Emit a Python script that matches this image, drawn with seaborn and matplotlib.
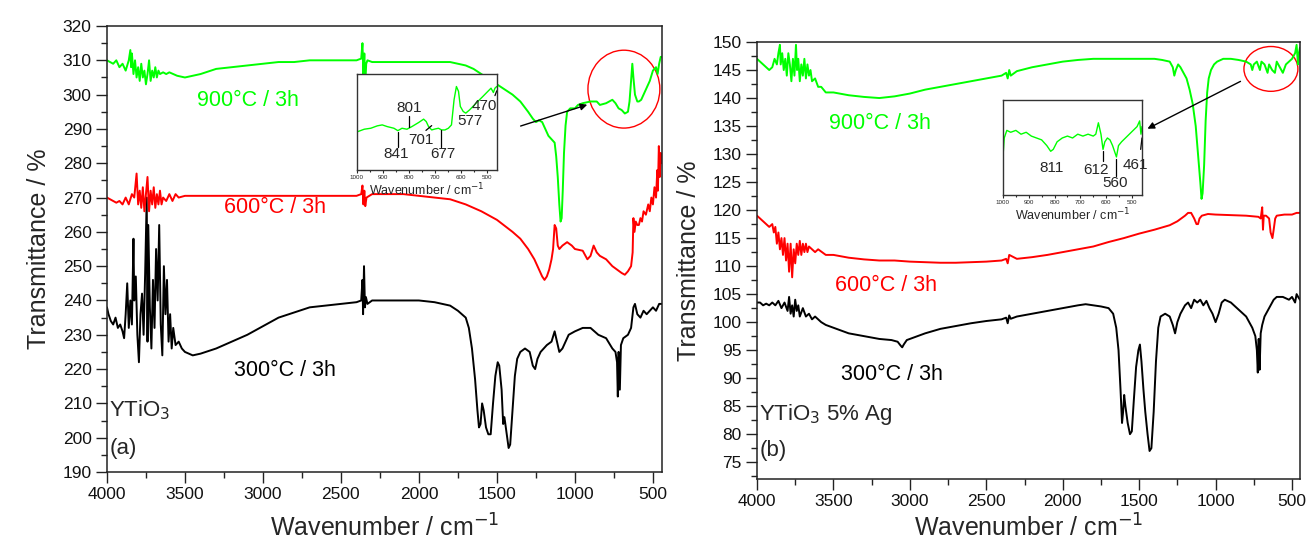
import matplotlib
matplotlib.use("Agg")
import matplotlib.pyplot as plt
from matplotlib.patches import Ellipse
from matplotlib.ticker import MultipleLocator
import seaborn as sns

sns.set_style("ticks")
plt.rcParams['font.family'] = ['Liberation Sans', 'DejaVu Sans']

# ---------------- Panel (a) YTiO3 ----------------
a300_wn = [4000, 3990, 3975, 3960, 3945, 3930, 3915, 3900, 3890, 3880, 3870, 3860, 3850, 3840, 3830, 3825, 3815, 3805,
           3795, 3785, 3775, 3765, 3755, 3745, 3740, 3735, 3725, 3715, 3705, 3695, 3685, 3675, 3665, 3655, 3645, 3635,
           3625, 3615, 3605, 3595, 3585, 3575, 3560, 3540, 3520, 3500, 3450, 3400, 3300, 3200, 3100, 3000, 2900, 2800,
           2700, 2600, 2500, 2400, 2370, 2362, 2358, 2352, 2346, 2340, 2330, 2300, 2200, 2100, 2000, 1900, 1800, 1750,
           1700, 1680, 1660, 1640, 1625, 1615, 1605, 1595, 1585, 1570, 1555, 1540, 1525, 1510, 1495, 1485, 1470, 1460,
           1452, 1440, 1425, 1415, 1400, 1385, 1370, 1350, 1320, 1290, 1270, 1255, 1240, 1220, 1200, 1180, 1150, 1130,
           1115, 1100, 1080, 1060, 1040, 1000, 950, 900, 850, 800, 760, 740, 730, 725, 720, 712, 705, 690, 660, 640,
           625, 615, 600, 580, 560, 540, 520, 500, 480, 460, 442]
a300_t = [238, 236, 234, 233, 235, 232, 233, 231, 229, 236, 245, 232, 240, 233, 258, 240, 247, 230,
          222, 236, 242, 230, 248, 270, 228, 262, 238, 226, 246, 232, 255, 240, 262, 233, 224, 250,
          236, 246, 228, 236, 226, 232, 227, 228, 226, 225, 224, 224.5, 226, 228, 230, 232.5, 235, 236.5,
          238, 238.5, 239, 239.5, 240, 246, 236, 250, 238, 241, 239, 240, 240, 240, 240, 239.5, 238.5, 237,
          235, 232, 226, 217, 208, 203, 204, 210, 208, 203, 201, 201, 210, 218, 222, 221, 214, 204,
          206, 202, 197, 198, 208, 218, 223, 225, 226, 225, 221, 220, 223, 225, 226, 227, 228, 231,
          228, 225, 226, 228, 230, 231, 232, 232, 230, 229, 226, 225, 222, 212, 225, 214, 227, 229, 230, 232,
          238, 239, 236, 235, 237, 236, 237, 238, 237, 239, 239]

a600_wn = [4000, 3980, 3960, 3940, 3920, 3900, 3880, 3860, 3840, 3825, 3810, 3800, 3790, 3780, 3770, 3760, 3750, 3740,
           3730, 3720, 3710, 3700, 3690, 3680, 3670, 3660, 3650, 3640, 3620, 3600, 3580, 3560, 3540, 3500, 3400, 3200,
           3000, 2800, 2600, 2400, 2370, 2362, 2356, 2350, 2344, 2336, 2300, 2200, 2100, 2000, 1900, 1800, 1700, 1600,
           1500, 1400, 1350, 1300, 1260, 1230, 1210, 1195, 1180, 1165, 1150, 1140, 1130, 1120, 1110, 1100, 1080, 1050,
           1020, 1000, 950, 920, 900, 880, 860, 840, 800, 760, 730, 700, 680, 660, 640, 630, 625, 618, 610, 600, 590,
           580, 570, 560, 545, 530, 520, 510, 500, 490, 480, 472, 468, 462, 456, 450, 442]
a600_t = [270, 269.5, 269, 268.5, 269, 268, 270, 268, 271, 270, 277, 268, 272, 267, 273, 266, 271, 276,
          266, 272, 268, 273, 267, 271, 268, 272, 268, 270, 269, 271, 269, 271, 270, 270.5, 270.5, 270.5,
          270.5, 270.5, 270.5, 270.5, 271, 273.5, 268, 272, 267.5, 270, 271, 271, 271, 270.5, 270, 269.5, 268, 266,
          263.5, 260, 258, 255, 252, 249, 247, 246, 247, 249, 252, 255, 262, 261, 256, 255, 256, 257,
          256, 255, 254.5, 252, 253, 256, 254, 253, 252, 250, 249, 248, 247.5, 248.5, 250, 254, 264, 260, 263, 262, 262,
          264, 263, 266, 265, 268, 266, 270, 268, 273, 270, 278, 272, 285, 276, 283, 280]

a900_wn = [4000, 3980, 3960, 3940, 3920, 3900, 3880, 3860, 3850, 3845, 3840, 3830, 3820, 3810, 3800, 3790, 3780, 3770,
           3760, 3750, 3740, 3730, 3720, 3710, 3700, 3690, 3680, 3670, 3660, 3640, 3620, 3600, 3550, 3500, 3400, 3300,
           3200, 3100, 3000, 2900, 2800, 2700, 2600, 2500, 2400, 2370, 2362, 2356, 2350, 2344, 2338, 2330, 2300, 2200,
           2000, 1900, 1800, 1750, 1700, 1650, 1600, 1550, 1500, 1450, 1400, 1350, 1300, 1270, 1250, 1230, 1210, 1190,
           1170, 1150, 1130, 1120, 1110, 1100, 1092, 1085, 1078, 1070, 1060, 1050, 1030, 1000, 980, 950, 900, 860, 840,
           800, 760, 740, 720, 700, 680, 660, 650, 640, 632, 625, 615, 600, 590, 575, 560, 540, 520, 500, 480, 470, 460,
           450, 442]
a900_t = [310, 309.5, 309, 310, 308, 309, 307, 310, 313, 308, 312, 306, 310, 305, 308, 304, 309, 305,
          307, 303, 306, 310, 304, 307, 305, 308, 305, 307, 306, 306.5, 306, 306.5, 305.5, 305, 306, 307.5,
          308, 308.5, 309, 309.5, 309.5, 310, 310, 310, 310, 310.5, 315, 306, 312, 303, 309, 310, 309.5, 309.5,
          309.5, 309.5, 309.5, 309, 308.5, 307.5, 306, 304.5, 303, 301.5, 300, 298, 295, 293, 292, 292.5, 292, 290,
          288, 287, 286, 282, 276, 268, 263, 264, 272, 283, 291, 295, 296, 296, 297, 297.5, 298, 298, 297,
          297.5, 298.5, 297.5, 296, 295.5, 294.5, 295, 298, 304, 309, 305, 300, 298, 298, 298.5, 300, 302, 304, 307, 308, 306, 309,
          311, 311]

# inset (a): 900 °C detail
ia_wn = [997, 972, 947, 922, 903, 884, 858, 843, 827, 808, 789, 763, 744, 734, 725, 713, 700, 687, 675, 662, 649,
         637, 627, 618, 610, 603, 592, 582, 567, 542, 516, 497, 485, 476, 470, 463]
ia_t = [296.0, 297.0, 297.4, 298.4, 298.8, 298.1, 297.4, 296.4, 297.4, 297.0, 298.1, 299.8, 301.2, 300.2, 298.1,
        296.7, 297.1, 297.4, 296.7, 296.7, 297.4, 298.8, 309.3, 314.8, 312.8, 306.5, 304.4, 303.7, 305.1, 307.9,
        310.7, 312.8, 314.1, 312.3, 314.1, 314.8]

# ---------------- Panel (b) YTiO3 5% Ag ----------------
b300_wn = [4000, 3980, 3960, 3940, 3920, 3900, 3880, 3860, 3840, 3820, 3800, 3790, 3780, 3770, 3760, 3750, 3740, 3730,
           3720, 3700, 3680, 3660, 3640, 3620, 3600, 3580, 3550, 3500, 3450, 3400, 3300, 3200, 3120, 3080, 3060, 3050,
           3040, 3020, 3000, 2900, 2800, 2700, 2600, 2500, 2400, 2370, 2360, 2350, 2340, 2300, 2200, 2100, 2000, 1900,
           1850, 1800, 1750, 1700, 1670, 1650, 1635, 1622, 1612, 1605, 1598, 1590, 1575, 1560, 1548, 1535, 1520, 1505,
           1495, 1485, 1472, 1460, 1445, 1432, 1420, 1405, 1390, 1375, 1360, 1330, 1300, 1280, 1265, 1250, 1230, 1200,
           1180, 1160, 1140, 1120, 1100, 1080, 1060, 1040, 1020, 1000, 980, 960, 940, 900, 860, 820, 800, 780, 760, 740,
           730, 724, 718, 712, 705, 695, 680, 660, 640, 620, 600, 560, 520, 500, 480, 470, 460, 448]
b300_t = [103.5, 103.5, 103, 103.3, 103, 103.5, 103, 103.8, 102.5, 103.5, 102, 104.5, 101.5, 103, 101, 104, 102, 103,
          101, 102.5, 101, 101.5, 100.5, 101, 100.5, 100, 99.5, 99, 98.5, 98, 97.5, 97, 96.8, 96.5, 95.8, 95.5,
          96, 96.8, 97, 98, 98.8, 99.3, 99.8, 100.2, 100.5, 100.8, 99.8, 101.2, 100.6, 101, 101.5, 102, 102.5, 103,
          103.2, 103, 102.8, 102.5, 101.5, 99, 95, 88, 82, 84, 87, 85, 82, 80, 80.5, 86, 92, 95,
          96, 93, 88, 84, 80, 77, 77.5, 84, 93, 99, 101, 101.5, 101, 99.5, 98, 100, 101.5, 103,
          103.5, 102.5, 104, 103.5, 104, 103, 103.8, 102.5, 101.5, 100, 101.5, 103.5, 104, 103.5, 102.5, 101.5, 101, 100, 99, 97.5,
          95, 91, 97, 91.5, 98, 99.5, 101, 102, 103, 104, 104.5, 104.5, 104, 104.5, 103.5, 105, 104.5, 104]

b600_wn = [4000, 3980, 3960, 3940, 3920, 3900, 3890, 3880, 3870, 3860, 3850, 3840, 3830, 3820, 3810, 3800, 3790, 3780,
           3770, 3760, 3750, 3740, 3730, 3720, 3710, 3700, 3690, 3680, 3670, 3660, 3640, 3620, 3600, 3550, 3500, 3400,
           3300, 3200, 3100, 3000, 2900, 2800, 2700, 2600, 2500, 2400, 2370, 2360, 2350, 2300, 2200, 2100, 2000, 1900,
           1800, 1700, 1600, 1500, 1400, 1300, 1250, 1200, 1180, 1160, 1140, 1125, 1115, 1105, 1090, 1050, 1000, 900,
           800, 720, 705, 695, 690, 685, 670, 650, 640, 628, 620, 610, 600, 550, 500, 470, 448]
b600_t = [119, 118.5, 118, 117.5, 117, 117.5, 116, 117, 114, 116, 113, 115, 112, 115, 111, 114, 109, 114,
          108, 113, 110.5, 114, 112, 114.5, 112, 114, 112.5, 114, 112.5, 113.5, 113, 112.5, 113, 112, 112, 111.5,
          111.2, 111, 111, 110.8, 110.7, 110.6, 110.6, 110.7, 110.8, 111, 111.3, 110.5, 112, 111.3, 111.6, 112, 112.5, 113,
          113.5, 114.3, 115, 115.8, 116.5, 117.3, 118, 119, 119.5, 119.5, 118.5, 117.5, 117.5, 118.5, 119, 119.3, 119.2, 119.1,
          119, 118.8, 118.5, 120.5, 116.5, 119, 119, 118.5, 116, 115, 116.5, 118.5, 119, 119.2, 119.2, 119.5, 119.5]

b900_wn = [4000, 3980, 3960, 3940, 3920, 3900, 3885, 3870, 3860, 3850, 3845, 3835, 3825, 3815, 3805, 3795, 3785, 3775,
           3765, 3755, 3745, 3738, 3730, 3720, 3710, 3700, 3690, 3680, 3670, 3660, 3650, 3640, 3620, 3600, 3580, 3550,
           3500, 3400, 3300, 3200, 3100, 3000, 2900, 2800, 2700, 2600, 2500, 2400, 2370, 2360, 2350, 2340, 2300, 2200,
           2100, 2000, 1900, 1800, 1700, 1600, 1500, 1400, 1350, 1300, 1280, 1270, 1260, 1245, 1230, 1210, 1190, 1170,
           1150, 1130, 1115, 1100, 1092, 1085, 1075, 1065, 1055, 1045, 1030, 1010, 990, 950, 900, 850, 800, 770, 760,
           750, 730, 710, 700, 680, 660, 650, 630, 612, 600, 580, 560, 540, 520, 500, 480, 470, 461, 455, 448]
b900_t = [147, 146.5, 146, 145.5, 145, 145.5, 147, 146, 148, 149.5, 146, 148, 145, 147, 144, 148, 146, 143,
          147, 144, 149.5, 145, 147, 143, 146, 144, 147, 143.5, 146, 144, 145, 143, 143.5, 142, 142, 141,
          141, 140.5, 140.2, 140, 140.3, 140.8, 141.5, 142, 142.5, 143, 143.5, 144, 144.5, 143.5, 145, 144, 144.8, 145.5,
          146, 146.5, 146.8, 147, 147, 147, 147, 147, 146.8, 146.5, 145.5, 144, 145, 146, 145.5, 144.5, 143.5, 141.5,
          139, 135, 130, 125, 122, 123, 128, 136, 141, 143.5, 145, 146, 146.5, 147, 147, 146.8, 146.5, 146, 145,
          146, 146.5, 145, 146.5, 146, 144.5, 146, 145, 144.5, 146.5, 145.5, 144.5, 146, 146.5, 147, 148, 149.5, 146, 148, 149]

# inset (b): 900 °C detail
ib_wn = [1000, 995, 985, 970, 950, 930, 910, 890, 870, 850, 830, 815, 805, 790, 770, 750, 730, 710, 690, 670, 650,
         640, 630, 620, 612, 605, 595, 585, 575, 565, 560, 552, 540, 525, 510, 495, 480, 470, 465, 461]
ib_t = [135, 140, 142, 141.5, 142, 141, 141.5, 140.5, 140, 139.5, 138, 136.5, 137, 139, 140, 140.5, 140, 141, 140.5,
        141, 140.5, 141, 144, 141, 137, 139, 140, 139.5, 138, 136, 135, 138, 139, 140, 141, 142, 143, 144.5, 141, 143]

labels = ["300°C / 3h", "600°C / 3h", "900°C / 3h"]
colors = ["#000000", "#FF0000", "#00FF00"]

fig = plt.figure(figsize=(13.09, 5.5), dpi=100)
axa = fig.add_axes([0.0817, 0.1418, 0.4240, 0.8109])
axb = fig.add_axes([0.5783, 0.1291, 0.4148, 0.7945])

for ax, series in [(axa, [(a300_wn, a300_t), (a600_wn, a600_t), (a900_wn, a900_t)]),
                   (axb, [(b300_wn, b300_t), (b600_wn, b600_t), (b900_wn, b900_t)])]:
    for (wn, t), c in zip(series, colors):
        sns.lineplot(x=wn, y=t, ax=ax, color=c, lw=1.4, sort=False, estimator=None)

def style_main(ax, ylo, yhi, ymaj, ymin, xright, xpad):
    ax.set_xlim(4000, xright)
    ax.set_ylim(ylo, yhi)
    ax.xaxis.set_major_locator(MultipleLocator(500))
    ax.xaxis.set_minor_locator(MultipleLocator(250))
    ax.yaxis.set_major_locator(MultipleLocator(ymaj))
    ax.yaxis.set_minor_locator(MultipleLocator(ymin))
    ax.tick_params(which='major', direction='out', length=8, width=1, labelsize=12.5, colors='#222222',
                   labelcolor='#111111', pad=3)
    ax.tick_params(which='minor', direction='out', length=4, width=1, colors='#222222')
    ax.tick_params(top=False, right=False)
    for s in ax.spines.values():
        s.set_linewidth(1.1)
        s.set_color('#222222')
    ax.set_xlabel("Wavenumber / cm$^{-1}$", fontsize=18, labelpad=xpad)
    ax.set_ylabel("Transmittance / %", fontsize=18, labelpad=8)

style_main(axa, 190, 320, 10, 5, 442, 9)
style_main(axb, 72, 150, 5, 2.5, 448, 4)

# curve labels
axa.text(3096, 298.4, labels[2], color=colors[2], fontsize=15.5, ha='center', va='center')
axa.text(2923, 267.2, labels[1], color=colors[1], fontsize=15.5, ha='center', va='center')
axa.text(2859, 219.7, labels[0], color=colors[0], fontsize=15.5, ha='center', va='center')
axa.text(3985, 208, "YTiO$_3$", fontsize=16, ha='left', va='center')
axa.text(3985, 196.8, "(a)", fontsize=16, ha='left', va='center')

axb.text(3196, 135.4, labels[2], color=colors[2], fontsize=15.5, ha='center', va='center')
axb.text(3156, 106.6, labels[1], color=colors[1], fontsize=15.5, ha='center', va='center')
axb.text(3117, 90.7, labels[0], color=colors[0], fontsize=15.5, ha='center', va='center')
axb.text(3985, 83.5, "YTiO$_3$ 5% Ag", fontsize=16, ha='left', va='center')
axb.text(3985, 77, "(b)", fontsize=16, ha='left', va='center')

# circles and arrows
axa.add_patch(Ellipse((686, 301.6), 461, 22.7, fill=False, ec='#FF0000', lw=1.0, clip_on=False))
axb.add_patch(Ellipse((638, 145.2), 353, 8.0, fill=False, ec='#FF0000', lw=1.0, clip_on=False))
axa.annotate("", xy=(904, 297.3), xytext=(1365, 290.6),
             arrowprops=dict(arrowstyle='-|>', color='black', lw=1.0, mutation_scale=10))
axb.annotate("", xy=(1462, 134.3), xytext=(821, 143.2),
             arrowprops=dict(arrowstyle='-|>', color='black', lw=1.0, mutation_scale=10))

# insets
ina = fig.add_axes([0.2727, 0.6909, 0.1070, 0.1745])
inb = fig.add_axes([0.7662, 0.6455, 0.1062, 0.1727])
sns.lineplot(x=ia_wn, y=ia_t, ax=ina, color=colors[2], lw=1.0, sort=False, estimator=None)
sns.lineplot(x=ib_wn, y=ib_t, ax=inb, color=colors[2], lw=1.0, sort=False, estimator=None)
ina.set_xlim(1000, 462); ina.set_ylim(280, 320)
inb.set_xlim(1000, 461); inb.set_ylim(125, 150)
for ax in (ina, inb):
    ax.set_facecolor('white')
    ax.xaxis.set_major_locator(MultipleLocator(100))
    ax.xaxis.set_minor_locator(MultipleLocator(50))
    ax.set_yticks([])
    ax.tick_params(which='major', direction='out', length=2.5, width=0.8, labelsize=4.5, pad=1)
    ax.tick_params(which='minor', direction='out', length=1.5, width=0.8)
    for s in ax.spines.values():
        s.set_linewidth(1.0)
        s.set_color('#333333')
    ax.set_xlabel("Wavenumber / cm$^{-1}$", fontsize=9, labelpad=1)
    ax.set_ylabel("")

# inset (a) peak labels
for wn, y0, y1 in [(801, 298.0, 302.5), (841, 296.0, 289.5), (677, 296.5, 289.5)]:
    ina.plot([wn, wn], [y0, y1], color='black', lw=0.9)
ina.plot([735, 713], [296.5, 298.5], color='black', lw=0.9)
ina.plot([470, 463], [311.0, 313.0], color='black', lw=0.9)
ina.text(801, 306, "801", fontsize=11, ha='center', va='center')
ina.text(848, 286.5, "841", fontsize=11, ha='center', va='center')
ina.text(755, 292.5, "701", fontsize=11, ha='center', va='center')
ina.text(670, 286.5, "677", fontsize=11, ha='center', va='center')
ina.text(566, 300.5, "577", fontsize=11, ha='center', va='center')
ina.text(512, 306.5, "470", fontsize=11, ha='center', va='center')

# inset (b) peak labels
inb.text(811, 132, "811", fontsize=11, ha='center', va='center')
inb.text(640, 131.5, "612", fontsize=11, ha='center', va='center')
inb.text(567, 128.2, "560", fontsize=11, ha='center', va='center')
inb.text(488, 133, "461", fontsize=11, ha='center', va='center')
inb.plot([612, 612], [136.5, 134], color='black', lw=0.9)
inb.plot([560, 560], [134.5, 130], color='black', lw=0.9)
inb.plot([466, 461], [137, 140], color='black', lw=0.9)

fig.savefig("out.png", dpi=100)
